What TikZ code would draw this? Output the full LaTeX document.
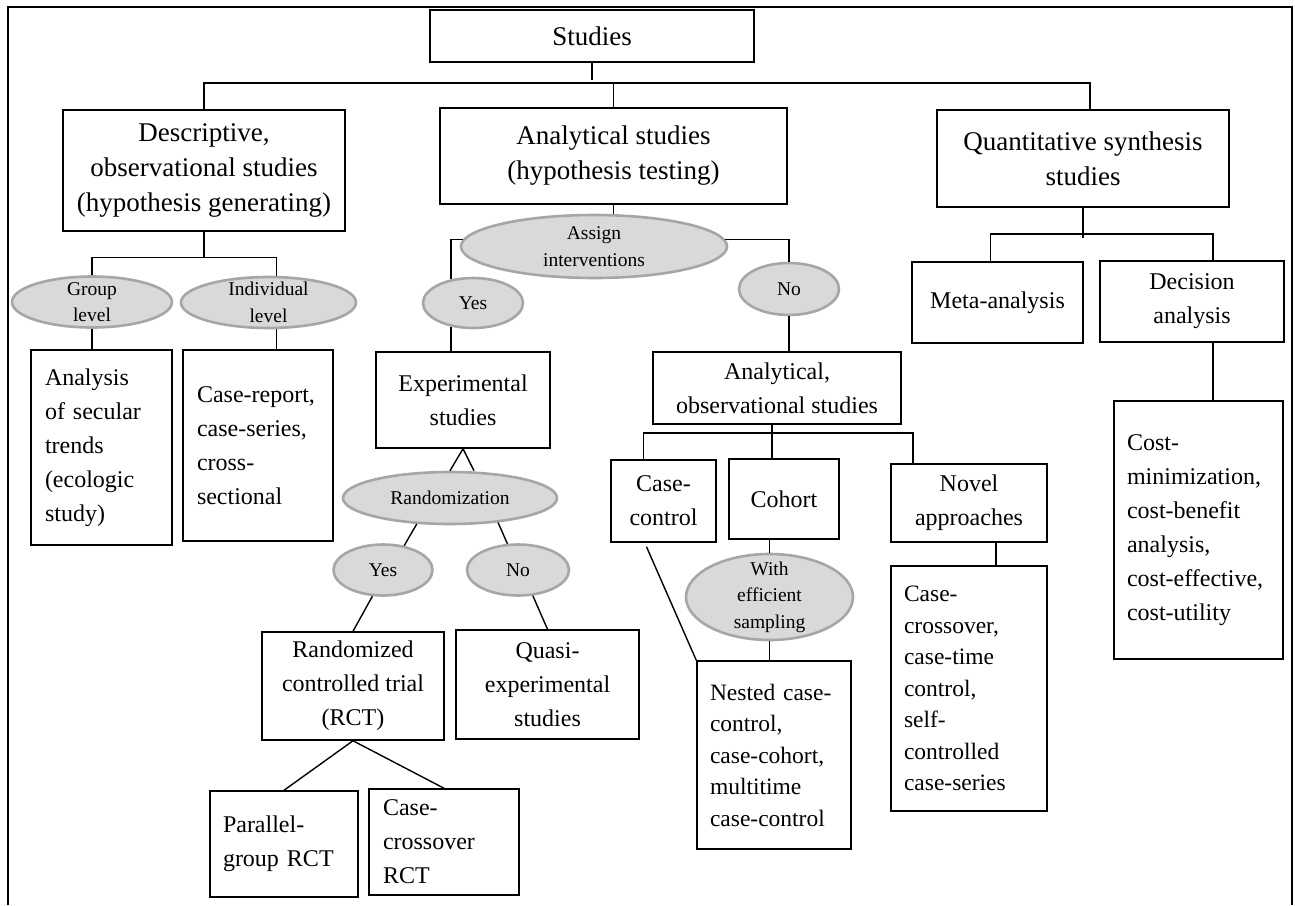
\documentclass[tikz,border=0pt]{standalone}
\usepackage{fontspec}
\setmainfont{Liberation Serif}
\usepackage{tikz}
\usetikzlibrary{shapes.geometric}

\definecolor{ovalfill}{HTML}{D9D9D9}
\definecolor{ovalline}{HTML}{A6A6A6}
\newcommand{\bigtxt}{\fontsize{27}{35}\selectfont}
\newcommand{\boxtxt}{\fontsize{24}{34}\selectfont}
\newcommand{\listtxt}{\fontsize{23.5}{31.5}\selectfont}
\newcommand{\ovaltxt}{\fontsize{19.5}{26.5}\selectfont}

\begin{document}
\begin{tikzpicture}[
    x=1pt, y=-1pt,
    box/.style={rectangle, draw, line width=1.5pt, inner sep=0pt,
                align=center, font=\boxtxt},
    topbox/.style={box, font=\bigtxt},
    listbox/.style={box, align=left},
    oval/.style={ellipse, draw=ovalline, fill=ovalfill, line width=2.6pt,
                 inner sep=-15pt, align=center, font=\ovaltxt},
    link/.style={line width=1.4pt}
]
\useasboundingbox (0,0) rectangle (1295,905);
\draw[line width=1.6pt] (8,905) -- (8,7) -- (1292,7) -- (1292,905);

% top level
\node[topbox, minimum width=324pt, minimum height=52pt] (studies) at (592,36) {Studies};
\node[topbox, minimum width=282pt, minimum height=121pt] (desc) at (204,170.5)
    {Descriptive,\\observational studies\\(hypothesis generating)};
\node[topbox, minimum width=347pt, minimum height=96pt] (anal) at (613.5,156)
    {Analytical studies\\(hypothesis testing)};
\node[topbox, minimum width=292pt, minimum height=97pt] (quant) at (1083,158.5)
    {Quantitative synthesis\\studies};

% descriptive branch
\node[oval, minimum width=160pt, minimum height=51pt] (group) at (92,302) {Group\\level};
\node[oval, minimum width=175pt, minimum height=51pt] (indiv) at (268.5,302.5) {Individual\\level};
\node[listbox, text width=113pt, minimum width=141pt, minimum height=195pt] (trends) at (101.5,447.5)
    {Analysis\\of secular\\trends\\(ecologic\\study)};
\node[listbox, text width=122pt, minimum width=150pt, minimum height=191pt] (caserep) at (258,445.5)
    {Case-report,\\case-series,\\cross-\\sectional};

% analytical branch
\node[oval, minimum width=266pt, minimum height=63pt] (assign) at (594,246.5) {Assign\\interventions};
\node[oval, minimum width=100pt, minimum height=50pt] (yes1) at (473,303) {Yes};
\node[oval, minimum width=100pt, minimum height=52pt] (no1) at (789,289) {No};
\node[box, minimum width=174pt, minimum height=96pt] (exper) at (463,400) {Experimental\\studies};
\node[oval, minimum width=214pt, minimum height=52pt] (random) at (450,498) {Randomization};
\node[oval, minimum width=99pt, minimum height=51pt] (yes2) at (383,570) {Yes};
\node[oval, minimum width=102pt, minimum height=51pt] (no2) at (518,570) {No};
\node[box, minimum width=182pt, minimum height=108pt] (rct) at (353,686)
    {Randomized\\controlled trial\\(RCT)};
\node[box, minimum width=183pt, minimum height=109pt] (quasi) at (547.5,684.5)
    {Quasi-\\experimental\\studies};
\node[listbox, text width=122pt, minimum width=148pt, minimum height=106pt] (parallel) at (284,844)
    {Parallel-\\group RCT};
\node[listbox, text width=122pt, minimum width=150pt, minimum height=106pt] (crossrct) at (444,842)
    {Case-\\crossover\\RCT};

% observational branch
\node[box, minimum width=248pt, minimum height=72pt] (anobs) at (777,388)
    {Analytical,\\observational studies};
\node[box, minimum width=105pt, minimum height=82pt] (casectl) at (663.5,501) {Case-\\control};
\node[box, minimum width=110pt, minimum height=80pt] (cohort) at (784,499) {Cohort};
\node[box, minimum width=156pt, minimum height=78pt] (novel) at (969,503) {Novel\\approaches};
\node[oval, minimum width=167pt, minimum height=86pt] (effic) at (769.5,597) {With\\efficient\\sampling};
\node[listbox, font=\listtxt, text width=128pt, minimum width=154pt, minimum height=188pt] (nested) at (774,755)
    {Nested case-\\control,\\case-cohort,\\multitime\\case-control};
\node[listbox, font=\listtxt, text width=130pt, minimum width=156pt, minimum height=245pt] (crossnov) at (969,688.5)
    {Case-\\crossover,\\case-time\\control,\\self-\\controlled\\case-series};

% synthesis branch
\node[box, minimum width=171pt, minimum height=81pt] (meta) at (997.5,302.5) {Meta-analysis};
\node[box, minimum width=184pt, minimum height=81pt] (decis) at (1192,301.5) {Decision\\analysis};
\node[listbox, text width=143pt, minimum width=169pt, minimum height=258pt] (cost) at (1198.5,530)
    {Cost-\\minimization,\\cost-benefit\\analysis,\\cost-effective,\\cost-utility};

% bus points and offset feet
\coordinate (topbus) at (0,83);
\coordinate (qbus) at (1083,234);
\coordinate (obus) at (772,433);
\coordinate (qtop) at ([xshift=7pt]quant.north);
\coordinate (indtop) at ([xshift=8pt]indiv.north);
\coordinate (indbot) at ([xshift=8pt]indiv.south);
\coordinate (randr) at ([xshift=24pt]random.north);
\coordinate (cctop) at ([xshift=-20pt]casectl.north);
\coordinate (ccfoot) at ([xshift=-17pt,yshift=-4pt]casectl.south);
\coordinate (nvtop) at ([xshift=-56pt]novel.north);
\coordinate (nvfoot) at ([xshift=27pt]novel.south);
\coordinate (metatop) at ([xshift=-7pt]meta.north);
\coordinate (dectop) at ([xshift=21pt]decis.north);
\coordinate (decfoot) at ([xshift=21pt]decis.south);

% connectors
\draw[link] (studies.south) -- ++(0,17);
\draw[link] (desc.north) |- (qtop |- topbus) -- (qtop);
\draw[link] (anal.north) -- (anal.north |- topbus);

\draw[link] (desc.south) -- ++(0,26) coordinate (dbus);
\draw[link] (group.north) |- (dbus) -| (indtop);
\draw[link] (group.south) -- (group.south |- trends.north);
\draw[link] (indbot) -- (indbot |- caserep.north);

\draw[link] (anal.south) -- (anal.south |- assign.north);
\draw[link] (assign.177) -| (yes1.133);
\draw[link] (assign.3) -| (no1.north);
\draw[link] (yes1.227) -- (yes1.227 |- exper.north);
\draw[link] (random.north) -- (exper.south) -- (randr);
\draw[link] (random.218) -- (yes2.49);
\draw[link] (random.333) -- (no2.112);
\draw[link] (yes2.248) -- (rct.north);
\draw[link] (no2.300) -- (quasi.north);
\draw[link] (parallel.north) -- (rct.south) -- (crossrct.north);

\draw[link] (no1.south) -- (no1.south |- anobs.north);
\draw[link] (anobs.south -| obus) -- (obus);
\draw[link] (cctop) |- (obus) -| (nvtop);
\draw[link] (obus) -- (obus |- cohort.north);
\draw[link] (effic.north |- cohort.south) -- (effic.north);
\draw[link] (effic.south) -- (effic.south |- nested.north);
\draw[link] (ccfoot) -- (nested.north west);
\draw[link] (nvfoot) -- (nvfoot |- crossnov.north);

\draw[link] (quant.south) -- ++(0,30);
\draw[link] (metatop) |- (qbus) -| (dectop);
\draw[link] (decfoot) -- (decfoot |- cost.north);
\end{tikzpicture}
\end{document}
